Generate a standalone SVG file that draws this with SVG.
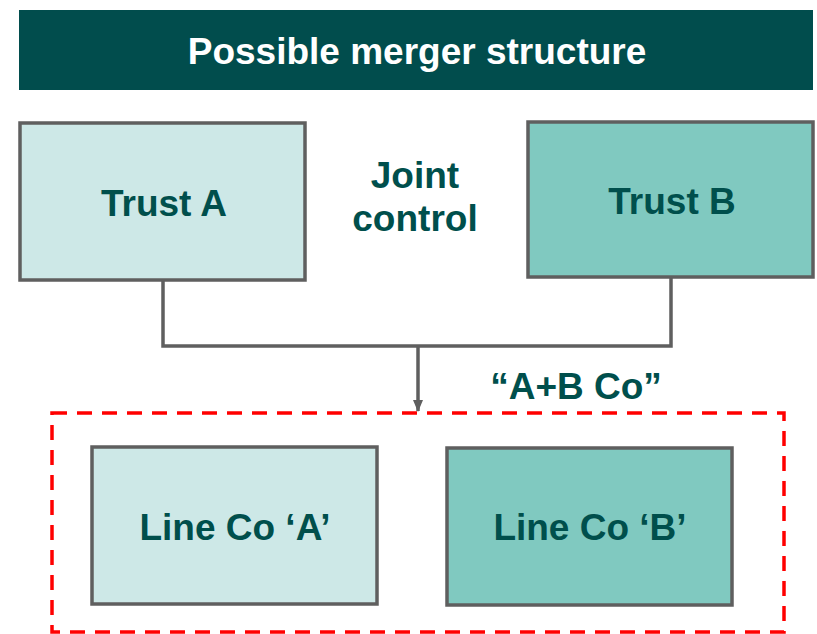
<svg xmlns="http://www.w3.org/2000/svg" width="817" height="634" viewBox="0 0 817 634">
<style>
.t{font-family:"Liberation Sans",Arial,sans-serif;font-weight:bold;fill:#004F4C;text-anchor:middle;font-size:37px}
.box{stroke:#5F5F5F;stroke-width:3.5}
.la{fill:#CDE8E7}
.dk{fill:#80C9C0}
.conn{fill:none;stroke:#5F5F5F;stroke-width:3.5}
</style>
<defs>
<marker id="arr" markerWidth="12" markerHeight="10" refX="11" refY="5" orient="auto" markerUnits="userSpaceOnUse">
<path d="M0,0 L12,5 L0,10 Z" fill="#5F5F5F"/>
</marker>
</defs>
<rect width="817" height="634" fill="#FFFFFF"/>
<g id="header">
<rect x="19" y="10" width="794" height="80" fill="#014D4D"/>
<text x="417" y="64" class="t" style="fill:#FFFFFF;font-size:37px">Possible merger structure</text>
</g>
<g id="connectors">
<polyline class="conn" points="163,281 163,346 671,346 671,278"/>
<line class="conn" x1="418" y1="346" x2="418" y2="411" marker-end="url(#arr)"/>
</g>
<g id="trustA">
<rect class="box la" x="20" y="123" width="285" height="157"/>
<text x="164" y="216" class="t">Trust A</text>
</g>
<g id="jointControl">
<text x="415" y="188" class="t">Joint</text>
<text x="415" y="231" class="t">control</text>
</g>
<g id="trustB">
<rect class="box dk" x="528" y="122" width="285" height="155"/>
<text x="672" y="214" class="t">Trust B</text>
</g>
<g id="abco">
<rect x="52" y="413" width="732" height="219" fill="none" stroke="#FF0000" stroke-width="3.5" stroke-dasharray="15 10"/>
<text x="576" y="399" class="t">“A+B Co”</text>
</g>
<g id="lineCoA">
<rect class="box la" x="92" y="447" width="285" height="157"/>
<text x="235" y="540" class="t">Line Co ‘A’</text>
</g>
<g id="lineCoB">
<rect class="box dk" x="447" y="448" width="285" height="157"/>
<text x="590" y="540" class="t">Line Co ‘B’</text>
</g>
</svg>
